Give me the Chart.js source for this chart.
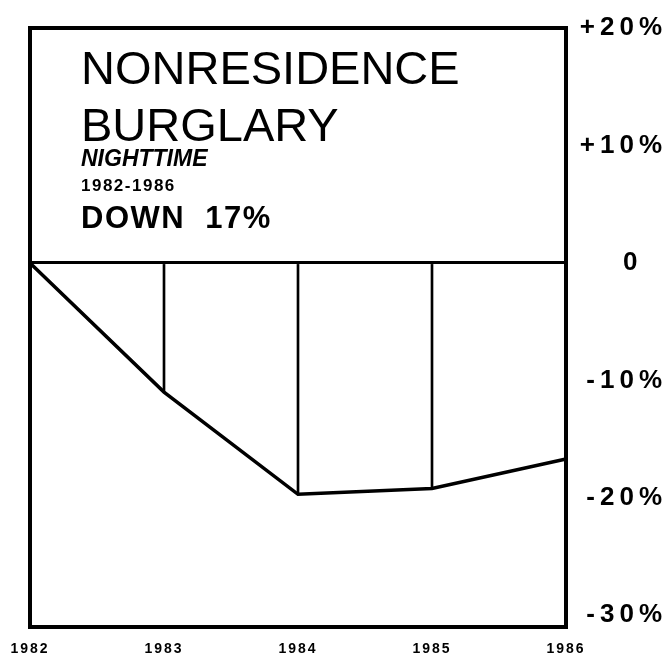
<!DOCTYPE html>
<html>
<head>
<meta charset="utf-8">
<script src="https://cdn.jsdelivr.net/npm/chart.js@4"></script>
<style>
  html, body { margin: 0; padding: 0; background: #fff; }
  #wrap { position: relative; width: 667px; height: 654px; }
  .t { position: absolute; left: 81px; line-height: 1; color: #000;
       font-family: "Liberation Sans", Arial, sans-serif; white-space: pre; }
</style>
</head>
<body>
<div id="wrap">
  <canvas id="c" width="667" height="654"></canvas>
  <div class="t" style="top:44px;font-size:47px;">NONRESIDENCE</div>
  <div class="t" style="top:101px;font-size:47px;">BURGLARY</div>
  <div class="t" style="top:147px;font-size:23px;font-weight:bold;font-style:italic;">NIGHTTIME</div>
  <div class="t" style="top:177px;font-size:17px;font-weight:bold;letter-spacing:1.5px;">1982-1986</div>
  <div class="t" style="top:202px;font-size:31px;font-weight:bold;letter-spacing:1.5px;">DOWN  17%</div>
</div>
<script>
// percent change since 1982
const years = ['1982', '1983', '1984', '1985', '1986'];
const changePct = [0, -11, -19.7, -19.2, -16.7];
const yTicks = [20, 10, 0, -10, -20, -30];
const yTickLabels = ['+20%', '+10%', '0  ', '-10%', '-20%', '-30%'];

// vertical drop lines from the zero line down to the curve (not at the ends)
const dropLines = changePct.map((v, i) => (i > 0 && i < changePct.length - 1) ? [v, 0] : null);

// wider letter spacing for the tick labels, like the typeset original
function spaceLabels(scale, spacing) {
  if (!scale || scale._spaced) return;
  const orig = scale.drawLabels.bind(scale);
  scale.drawLabels = function (area) {
    this.ctx.save();
    this.ctx.letterSpacing = spacing;
    orig(area);
    this.ctx.restore();
  };
  scale._spaced = true;
}

const boxPlugin = {
  id: 'box',
  beforeDraw(chart) {
    spaceLabels(chart.scales.x, '2px');
    spaceLabels(chart.scales.y, '5px');
  },
  afterDatasetsDraw(chart) {
    const { ctx, chartArea: a } = chart;
    ctx.save();
    ctx.lineWidth = 4;
    ctx.strokeStyle = '#000';
    ctx.strokeRect(a.left, a.top, a.right - a.left, a.bottom - a.top);
    ctx.restore();
  }
};

new Chart(document.getElementById('c'), {
  type: 'line',
  data: {
    labels: years,
    datasets: [
      {
        type: 'line',
        data: changePct,
        borderColor: '#000',
        borderWidth: 3.5,
        pointRadius: 0,
        tension: 0,
        fill: false
      },
      {
        type: 'bar',
        data: dropLines,
        backgroundColor: '#000',
        borderWidth: 0,
        barThickness: 2,
        grouped: false
      }
    ]
  },
  options: {
    responsive: false,
    animation: false,
    layout: { padding: { left: 30, top: 28, right: 0, bottom: 0 } },
    plugins: { legend: { display: false }, tooltip: { enabled: false } },
    scales: {
      x: {
        offset: false,
        grid: { display: false },
        border: { display: false },
        ticks: {
          color: '#000',
          font: { family: 'Liberation Sans', size: 14, weight: 'bold' },
          padding: 6,
          maxRotation: 0,
          autoSkip: false
        },
        afterFit(s) { s.height = 27; }
      },
      y: {
        position: 'right',
        min: -31,
        max: 20,
        afterBuildTicks(s) { s.ticks = yTicks.map(v => ({ value: v })); },
        grid: {
          drawTicks: false,
          color: c => (c.tick && c.tick.value === 0) ? '#000' : 'rgba(0,0,0,0)',
          lineWidth: 3
        },
        border: { display: false },
        ticks: {
          color: '#000',
          crossAlign: 'far',
          padding: 10,
          font: { family: 'Liberation Sans', size: 26, weight: 'bold' },
          callback: v => yTickLabels[yTicks.indexOf(v)]
        },
        afterFit(s) { s.width = 101; }
      }
    }
  },
  plugins: [boxPlugin]
});
</script>
</body>
</html>
